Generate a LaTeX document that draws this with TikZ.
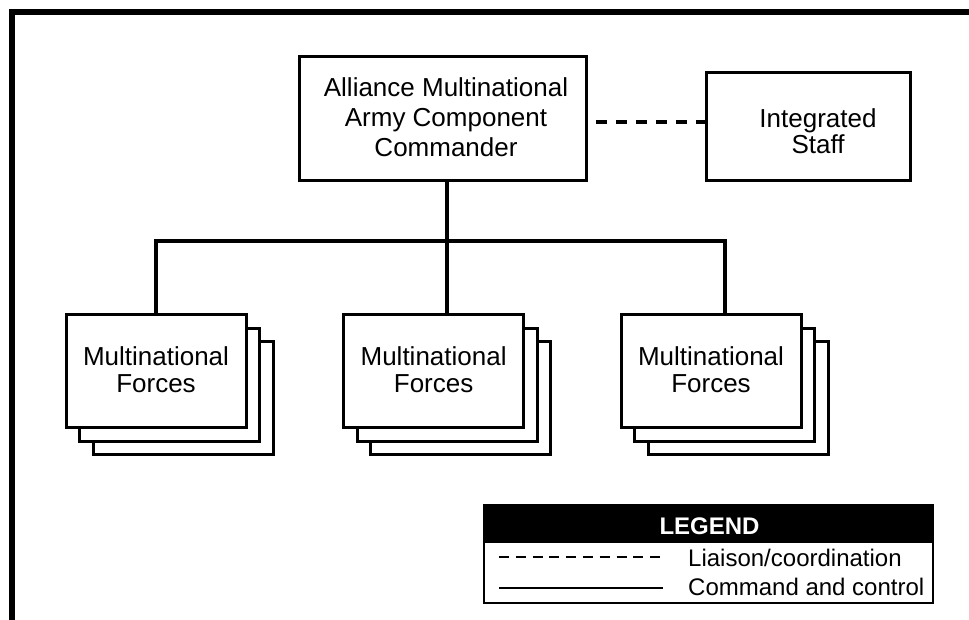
\documentclass[tikz,border=0pt]{standalone}
\usepackage{fontspec}
\setmainfont{Liberation Sans}
\begin{document}
\begin{tikzpicture}[x=1pt,y=-1pt,
  box/.style={draw, line width=3pt, fill=white, inner sep=0pt},
  forcebox/.style={box, minimum width=180pt, minimum height=113pt},
  txt/.style={align=center, inner sep=0pt},
  link/.style={line width=3.3pt},
  liaison/.style={line width=4pt, dash pattern=on 11pt off 9pt, dash phase=12pt},
  legtxt/.style={inner sep=0pt, anchor=base west, font=\fontsize{24}{24}\selectfont},
]
\useasboundingbox (0,0) rectangle (969,619);
\clip (0,0) rectangle (969,619);
% frame
\draw[line width=5.5pt] (12,640) -- (12,12) -- (990,12);

% commander
\node[box, minimum width=287pt, minimum height=124pt] (cmdr) at (443,118.5) {};
\node[txt, font=\fontsize{26}{30}\selectfont] (cmdrtxt) at (446,117) {Alliance Multinational\\Army Component\\Commander};

% integrated staff
\node[box, minimum width=204pt, minimum height=108.5pt] (staff) at (808,126.3) {};
\node[txt, font=\fontsize{26}{26}\selectfont] (stafftxt) at (818,131.5) {Integrated\\Staff};

% forces stacks
\foreach \n/\cx in {1/156, 2/433.6, 3/711}{
  \node[forcebox] (f\n c) at (\cx+27,371.2+27) {};
  \node[forcebox] (f\n b) at (\cx+13.5,371.2+13.5) {};
  \node[forcebox] (f\n) at (\cx,371.2) {};
  \node[txt, font=\fontsize{26}{27}\selectfont] (f\n t) at (\cx,369.5) {Multinational\\Forces};
}

% connectors
\coordinate (j1) at (156,241);
\coordinate (j2) at (447,241);
\coordinate (j3) at (725,241);
\draw[link] (cmdr.south -| j2) -- (f2.north -| j2);
\draw[link] (f1.north -| j1) -- (j1) -- (j3) -- (f3.north -| j3);
\draw[liaison] (cmdr.east |- 0,122) -- (staff.west |- 0,122);

% legend
\node[draw, line width=2pt, minimum width=449pt, minimum height=98pt, inner sep=0pt] (legend) at (708,553.5) {};
\node[fill=black, minimum width=451pt, minimum height=38pt, inner sep=0pt, anchor=north] (lhead) at ([yshift=-1pt]legend.north) {};
\node[inner sep=0pt, anchor=base, text=white, font=\fontsize{24}{24}\selectfont\bfseries] (lheadtxt) at (709.5,534) {LEGEND};
\draw[line width=2.3pt, dash pattern=on 10pt off 6.8pt] (499,557.3) -- (661,557.3);
\draw[line width=2.3pt] (499,588) -- (663,588);
\node[legtxt] (l1) at (688,566.7) {Liaison/coordination};
\node[legtxt] (l2) at (688,595) {Command and control};
\end{tikzpicture}
\end{document}
